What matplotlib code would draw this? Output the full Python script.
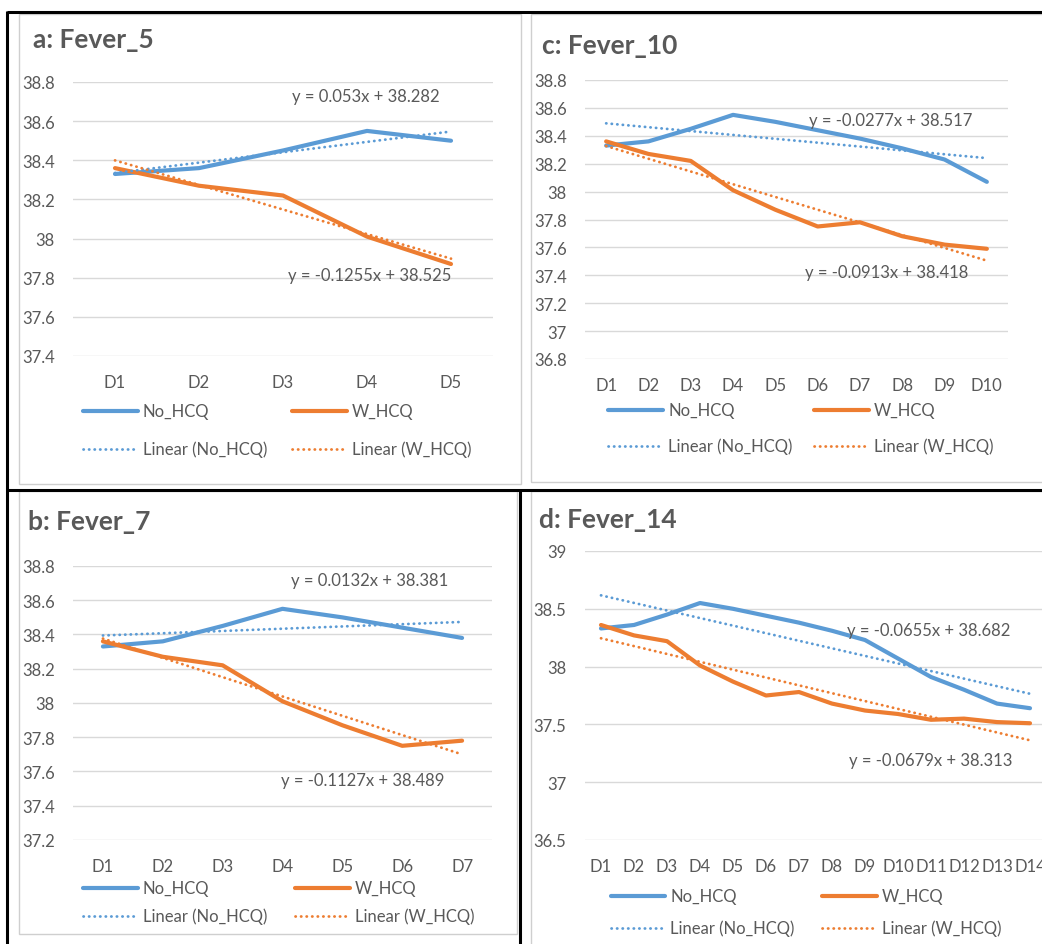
"""Four Excel-style fever panels (No_HCQ vs W_HCQ) with linear trendlines."""
import matplotlib
matplotlib.use('Agg')
import matplotlib.pyplot as plt
from matplotlib.lines import Line2D
from matplotlib.patches import Rectangle
from matplotlib.ticker import FuncFormatter
import numpy as np

plt.rcParams['font.family'] = ['Lato', 'DejaVu Sans']

W, H = 1042, 945
BLUE = '#5B9BD5'
ORANGE = '#ED7D31'
GREY = '#595959'
GRID = '#d9d9d9'

# daily mean temperature; shorter panels show the first n days
DAYS = ['D%d' % i for i in range(1, 15)]
NO_HCQ = [38.33, 38.36, 38.45, 38.55, 38.50, 38.44, 38.38, 38.31, 38.23, 38.07,
          37.91, 37.80, 37.68, 37.64]
W_HCQ = [38.36, 38.27, 38.22, 38.01, 37.87, 37.75, 37.78, 37.68, 37.62, 37.59,
         37.54, 37.55, 37.52, 37.51]

# panel order: a, b, c, d
TITLES = ['a: Fever_5', 'b: Fever_7', 'c: Fever_10', 'd: Fever_14']
N_DAYS = [5, 7, 10, 14]
NO_SLOPE = [0.053, 0.0132, -0.0277, -0.0655]
NO_INTERCEPT = [38.282, 38.381, 38.517, 38.682]
W_SLOPE = [-0.1255, -0.1127, -0.0913, -0.0679]
W_INTERCEPT = [38.525, 38.489, 38.418, 38.313]
Y_RANGE = [(37.4, 38.8, 0.2), (37.2, 38.8, 0.2), (36.8, 38.8, 0.2), (36.5, 39.0, 0.5)]

# layout in image pixels
PLOT_BOX = [(73, 83, 493, 357), (73, 567, 492, 841), (585, 81, 1008, 360), (584.5, 552, 1046.5, 841)]
TITLE_POS = [(33, 40), (28, 522), (542, 46), (539, 520)]
EQ_NO_POS = [(292, 97), (291, 581), (809, 121), (847, 631)]
EQ_W_POS = [(288, 276), (281, 781), (805, 273), (849, 761)]
LEG_ROWS = [(412, 450), (889, 917), (411, 447), (897, 929)]
LEG_COLS = [((83, 138, 143), (292, 347, 352)), ((83, 138, 143), (295, 350, 355)),
            ((608, 663, 668), (814, 869, 874)), ((611, 665, 670), (822, 877, 882))]
CHART_BORDER = [(19, 15, 521, 485), (19, 492, 517, 935), (531, 15, 1046, 483), (531, 492, 1046, 950)]


def fx(x):
    return x / W


def fy(y):
    return 1 - y / H


def line_kw(dotted):
    if dotted:
        return dict(lw=2.0, ls=(0, (0.1, 1.9)), dash_capstyle='round')
    return dict(lw=3.0, solid_capstyle='round', solid_joinstyle='round')


def draw_panel(fig, i):
    n = N_DAYS[i]
    x0, y0, x1, y1 = PLOT_BOX[i]
    ax = fig.add_axes([fx(x0), fy(y1), (x1 - x0) / W, (y1 - y0) / H])
    x = np.arange(1, n + 1)

    ax.plot(x, NO_HCQ[:n], color=BLUE, **line_kw(False))
    ax.plot(x, W_HCQ[:n], color=ORANGE, **line_kw(False))
    ax.plot(x, NO_SLOPE[i] * x + NO_INTERCEPT[i], color=BLUE, **line_kw(True))
    ax.plot(x, W_SLOPE[i] * x + W_INTERCEPT[i], color=ORANGE, **line_kw(True))

    lo, hi, step = Y_RANGE[i]
    ax.set_ylim(lo, hi)
    ax.set_yticks(np.arange(lo, hi + step / 2, step))
    ax.yaxis.set_major_formatter(FuncFormatter(lambda v, _: f'{v:g}'))
    ax.set_xlim(0.5, n + 0.5)
    ax.set_xticks(x)
    ax.set_xticklabels(DAYS[:n])
    ax.tick_params(length=0, labelsize=12, labelcolor=GREY)
    ax.tick_params(axis='y', pad=13)
    ax.tick_params(axis='x', pad=13)
    ax.grid(axis='y', color=GRID, lw=1)
    ax.set_axisbelow(True)
    for s in ax.spines.values():
        s.set_visible(False)
    ax.patch.set_alpha(0)

    tx, ty = TITLE_POS[i]
    fig.text(fx(tx), fy(ty), TITLES[i], fontsize=19, fontweight='bold', color=GREY, va='center')
    ex, ey = EQ_NO_POS[i]
    fig.text(fx(ex), fy(ey), f'y = {NO_SLOPE[i]:g}x + {NO_INTERCEPT[i]:g}', fontsize=12, color=GREY, va='center')
    ex, ey = EQ_W_POS[i]
    fig.text(fx(ex), fy(ey), f'y = {W_SLOPE[i]:g}x + {W_INTERCEPT[i]:g}', fontsize=12, color=GREY, va='center')

    entries = [[('No_HCQ', BLUE, False), ('W_HCQ', ORANGE, False)],
               [('Linear (No_HCQ)', BLUE, True), ('Linear (W_HCQ)', ORANGE, True)]]
    for row, ly in zip(entries, LEG_ROWS[i]):
        for (label, color, dotted), (lx0, lx1, lxt) in zip(row, LEG_COLS[i]):
            fig.add_artist(Line2D([fx(lx0), fx(lx1)], [fy(ly), fy(ly)], color=color, **line_kw(dotted)))
            fig.text(fx(lxt), fy(ly), label, fontsize=12, color=GREY, va='center')

    bx0, by0, bx1, by1 = CHART_BORDER[i]
    fig.add_artist(Rectangle((fx(bx0), fy(by1)), (bx1 - bx0) / W, (by1 - by0) / H,
                             transform=fig.transFigure, fill=False, ec='#cfcfcf', lw=1))


def main():
    fig = plt.figure(figsize=(W / 100, H / 100), dpi=100)
    for i in range(4):
        draw_panel(fig, i)

    # table cell borders
    black = dict(color='black', lw=2.2, solid_capstyle='butt')
    fig.add_artist(Line2D([fx(7), fx(W)], [fy(13), fy(13)], **black))
    fig.add_artist(Line2D([fx(7), fx(W)], [fy(491), fy(491)], **black))
    fig.add_artist(Line2D([fx(7), fx(7)], [fy(12), fy(H)], **black))
    fig.add_artist(Line2D([fx(519.5), fx(519.5)], [fy(491), fy(H)], **black))

    fig.savefig('out.png', dpi=100)


if __name__ == '__main__':
    main()
